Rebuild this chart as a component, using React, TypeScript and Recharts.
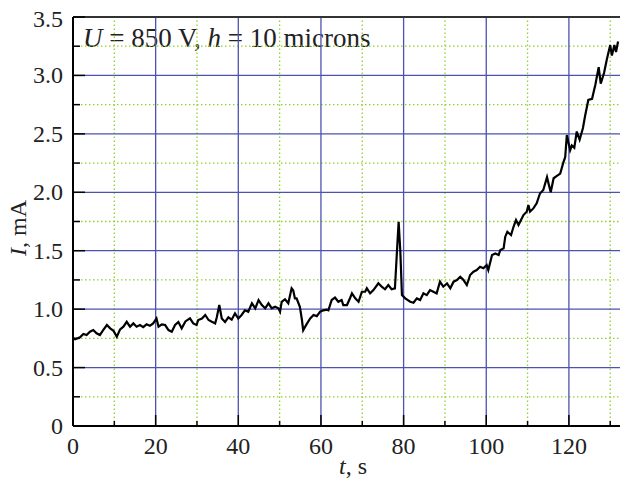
import React from 'react';
import { LineChart, Line, XAxis, YAxis, ReferenceLine, ReferenceArea } from 'recharts';

// time, s
const timeValues = [
  0, 0.5, 1.7, 2.5, 3.3, 4.1, 4.9, 5.7, 6.5, 7.3, 8.2, 9.0, 9.8, 10.6, 11.4, 12.2, 13.0, 13.8, 14.6, 15.4,
  16.2, 17.0, 17.8, 18.6, 19.4, 20.2, 20.7, 21.5, 22.3, 23.1, 23.9, 24.7, 25.5, 26.3, 27.2, 28.3, 29.1, 29.9,
  30.3, 31.2, 32.0, 32.8, 33.6, 34.4, 34.8, 35.4, 36.0, 36.8, 37.6, 38.4, 39.2, 40.0, 40.8, 41.6, 42.4, 43.3,
  44.1, 44.9, 45.7, 46.5, 47.3, 48.1, 48.9, 49.7, 50.1, 50.5, 51.3, 52.1, 52.9, 53.3, 53.7, 54.1, 54.9, 55.4,
  55.7, 56.5, 57.4, 58.2, 59.0, 59.8, 60.6, 61.4, 61.8, 62.6, 63.4, 64.2, 65.0, 65.4, 66.3, 67.1, 67.5, 68.3,
  69.1, 69.9, 70.7, 71.1, 71.9, 72.7, 73.9, 74.7, 75.5, 76.3, 77.1, 77.9, 78.5, 78.8, 79.2, 79.6, 80.4, 81.6,
  82.4, 83.2, 84.0, 84.8, 85.6, 86.4, 87.2, 88.0, 88.8, 89.6, 90.5, 91.3, 92.1, 92.9, 93.7, 94.5, 95.3, 96.1,
  96.9, 97.7, 98.5, 99.3, 100.1, 100.5, 101.4, 102.2, 103.0, 103.4, 104.2, 104.6, 105.1, 106.0, 106.6, 107.2,
  107.8, 109.0, 109.8, 110.2, 110.6, 111.4, 112.2, 113.0, 113.8, 114.7, 115.1, 115.6, 116.3, 117.1, 117.9,
  118.7, 119.1, 119.5, 120.3, 120.7, 121.3, 121.9, 122.6, 123.4, 123.9, 124.7, 125.6, 126.4, 127.2, 127.7,
  128.5, 129.2, 130.0, 130.4, 131.0, 131.4, 131.9,
];

// current, mA
const currentValues = [
  0.753, 0.742, 0.759, 0.787, 0.778, 0.807, 0.821, 0.793, 0.778, 0.821, 0.864, 0.836, 0.815, 0.764, 0.827, 0.85,
  0.892, 0.85, 0.878, 0.85, 0.864, 0.846, 0.87, 0.857, 0.878, 0.921, 0.85, 0.87, 0.864, 0.821, 0.807, 0.864,
  0.89, 0.836, 0.895, 0.921, 0.878, 0.864, 0.907, 0.92, 0.95, 0.907, 0.892, 0.878, 0.93, 1.035, 0.92, 0.89,
  0.93, 0.91, 0.964, 0.92, 0.95, 0.99, 0.978, 1.05, 1.007, 1.078, 1.035, 1.007, 1.05, 1.007, 1.02, 1.007,
  0.978, 1.063, 1.085, 1.05, 1.178, 1.16, 1.092, 1.092, 1.02, 0.907, 0.82, 0.87, 0.921, 0.95, 0.94, 0.978,
  0.99, 0.995, 0.99, 1.078, 1.1, 1.063, 1.078, 1.035, 1.035, 1.1, 1.135, 1.092, 1.063, 1.149, 1.149, 1.178,
  1.135, 1.163, 1.221, 1.192, 1.17, 1.206, 1.17, 1.178, 1.563, 1.748, 1.5, 1.12, 1.092, 1.063, 1.055, 1.092,
  1.078, 1.135, 1.12, 1.163, 1.149, 1.135, 1.235, 1.192, 1.22, 1.178, 1.235, 1.249, 1.277, 1.249, 1.206,
  1.292, 1.32, 1.335, 1.363, 1.35, 1.377, 1.335, 1.463, 1.477, 1.463, 1.506, 1.52, 1.62, 1.662, 1.634, 1.705,
  1.762, 1.72, 1.805, 1.834, 1.89, 1.834, 1.862, 1.905, 1.99, 2.02, 2.13, 2.07, 2.0, 2.12, 2.14, 2.16, 2.26,
  2.3, 2.49, 2.36, 2.4, 2.38, 2.52, 2.45, 2.55, 2.65, 2.79, 2.8, 2.92, 3.07, 2.93, 3.02, 3.14, 3.26, 3.17,
  3.26, 3.2, 3.29,
];

const xTicks = [0, 10, 20, 30, 40, 50, 60, 70, 80, 90, 100, 110, 120, 130];
const xMajorGrid = [20, 40, 60, 80, 100, 120];
const xMinorGrid = [10, 30, 50, 70, 90, 110, 130];
const yTicks = [0, 0.25, 0.5, 0.75, 1, 1.25, 1.5, 1.75, 2, 2.25, 2.5, 2.75, 3, 3.25, 3.5];
const yMajorGrid = [0.5, 1, 1.5, 2, 2.5, 3];
const yMinorGrid = [0.25, 0.75, 1.25, 1.75, 2.25, 2.75, 3.25];

const data = timeValues.map((t, i) => ({ t, I: currentValues[i] }));

const FONT = '"Liberation Serif", "Times New Roman", serif';
const BLUE = '#4c52b0';
const GREEN = '#92d02c';

const XTick = (props: any) => {
  const { x, y, payload } = props;
  const v = payload.value;
  const major = v % 20 === 0;
  return (
    <g>
      <line x1={x} x2={x} y1={y} y2={y - (major ? 11 : 5)} stroke="#000" strokeWidth={1.5} />
      {major && (
        <text x={x} y={y + 28} textAnchor="middle" fontFamily={FONT} fontSize={24} fill="#222">
          {String(v)}
        </text>
      )}
    </g>
  );
};

const YTick = (props: any) => {
  const { x, y, payload } = props;
  const v = payload.value;
  const major = Math.abs(v * 2 - Math.round(v * 2)) < 1e-6;
  const label = v === 0 ? '0' : v.toFixed(1);
  const dy = v === 3.5 ? 10 : 8;
  return (
    <g>
      <line x1={x} x2={x + (major ? 12 : 7)} y1={y} y2={y} stroke="#000" strokeWidth={1.5} />
      {major && (
        <text x={x - 10} y={y + dy} textAnchor="end" fontFamily={FONT} fontSize={24} fill="#222">
          {label}
        </text>
      )}
    </g>
  );
};

const XLabel = (props: any) => {
  const vb = props.viewBox;
  return (
    <text x={vb.x + 280} y={vb.y + 48} textAnchor="middle" fontFamily={FONT} fontSize={24} fill="#222">
      <tspan fontStyle="italic">t</tspan>, s
    </text>
  );
};

const YLabel = (props: any) => {
  const vb = props.viewBox;
  const cx = 26;
  const cy = vb.y + 211;
  return (
    <text x={cx} y={cy} textAnchor="middle" fontFamily={FONT} fontSize={24} fill="#222" transform={`rotate(-90, ${cx}, ${cy})`}>
      <tspan fontStyle="italic">I</tspan>, mA
    </text>
  );
};

const Annotation = (props: any) => {
  const vb = props.viewBox;
  return (
    <text x={vb.x + 10} y={vb.y + 30} fontFamily={FONT} fontSize={27} fill="#222">
      <tspan fontStyle="italic">U</tspan> = 850 V, <tspan fontStyle="italic">h</tspan> = 10 microns
    </text>
  );
};

export default function App() {
  return (
    <div style={{ width: 628, height: 482, margin: '-8px 0 0 -8px' }}>
      <LineChart width={628} height={482} data={data} margin={{ top: 17, right: 0, bottom: 0, left: 0 }}>
        {xMinorGrid.map((v) => (
          <ReferenceLine key={'xm' + v} x={v} stroke={GREEN} strokeWidth={1.3} strokeDasharray="1.5 2.5" />
        ))}
        {yMinorGrid.map((v) => (
          <ReferenceLine key={'ym' + v} y={v} stroke={GREEN} strokeWidth={1.3} strokeDasharray="1.5 2.5" />
        ))}
        {xMajorGrid.map((v) => (
          <ReferenceLine key={'xM' + v} x={v} stroke={BLUE} strokeWidth={1.3} />
        ))}
        {yMajorGrid.map((v) => (
          <ReferenceLine key={'yM' + v} y={v} stroke={BLUE} strokeWidth={1.3} />
        ))}
        <ReferenceArea x1={0} x2={73.8} y1={3.148} y2={3.5} fill="#ffffff" fillOpacity={1} stroke="none" label={<Annotation />} />
        <ReferenceLine y={3.5} stroke="#333" strokeWidth={2} />
        <XAxis
          dataKey="t"
          type="number"
          domain={[0, 134.3]}
          ticks={xTicks}
          allowDataOverflow
          height={56}
          tickSize={0}
          tickMargin={0}
          tick={<XTick />}
          axisLine={{ stroke: '#000', strokeWidth: 2 }}
          tickLine={false}
          interval={0}
          label={<XLabel />}
        />
        <YAxis
          type="number"
          domain={[0, 3.5]}
          ticks={yTicks}
          width={73}
          tickSize={0}
          tickMargin={0}
          tick={<YTick />}
          axisLine={{ stroke: '#000', strokeWidth: 2 }}
          tickLine={false}
          interval={0}
          label={<YLabel />}
        />
        <Line dataKey="I" type="linear" stroke="#000" strokeWidth={2.2} dot={false} isAnimationActive={false} />
      </LineChart>
    </div>
  );
}
